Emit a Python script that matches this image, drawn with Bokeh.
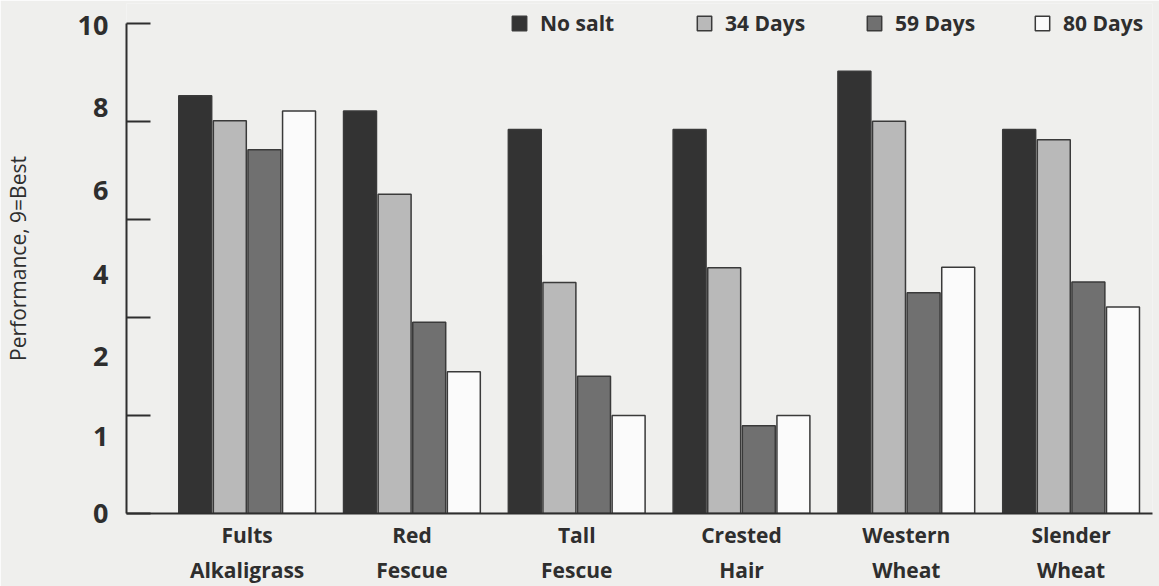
from bokeh.plotting import figure
from bokeh.models import (Range1d, FixedTicker, CustomJSTickFormatter, ColumnDataSource,
                          Legend, LegendItem)
from bokeh.transform import dodge
from bokeh.embed import file_html
from bokeh.resources import INLINE

# ---- data ----
groups = ["Fults\nAlkaligrass", "Red\nFescue", "Tall\nFescue",
          "Crested\nHair", "Western\nWheat", "Slender\nWheat"]
series = ["No salt", "34 Days", "59 Days", "80 Days"]
no_salt = [8.52, 8.21, 7.83, 7.83, 9.02, 7.83]
days34 = [8.01, 6.51, 4.71, 5.01, 8.00, 7.62]
days59 = [7.42, 3.90, 2.80, 1.79, 4.50, 4.72]
days80 = [8.21, 2.89, 2.00, 2.00, 5.02, 4.21]
ytick_marks = [0, 2, 4, 6, 8, 10]
ytick_labels = ["0", "1", "2", "4", "6", "8", "10"]
ytick_label_pos = [0, 1.57, 3.21, 4.88, 6.58, 8.27, 9.95]

colors = ["#333333", "#b9b9b9", "#707070", "#fbfbfb"]
ink = "#2e2e2e"
paper = "#efefed"
FONT = "Open Sans"

src = ColumnDataSource(dict(x=list(range(len(groups))), s0=no_salt, s1=days34,
                            s2=days59, s3=days80))

p = figure(width=1159, height=586, output_backend="svg", toolbar_location=None,
           x_range=Range1d(-0.732, 5.494), y_range=Range1d(0, 10.4),
           min_border_left=126, min_border_right=7, min_border_top=3,
           min_border_bottom=71)
p.background_fill_color = paper
p.border_fill_color = paper
p.outline_line_color = None
p.grid.visible = False

bw = 0.21
renderers = []
for i, (name, col) in enumerate(zip(series, colors)):
    r = p.vbar(x=dodge("x", (i - 1.5) * bw, range=p.x_range), top=f"s{i}", width=0.2,
               bottom=0, source=src, fill_color=col, line_color="#3a3a3a",
               line_width=1.5)
    renderers.append(r)

# one legend box per entry, spaced as in the original
legend_x = [384, 569, 739, 907]
for name, r, lx in zip(series, renderers, legend_x):
    lg = Legend(items=[LegendItem(label=name, renderers=[r])],
                location=(lx, 476), padding=0, margin=0,
                glyph_width=18, glyph_height=18, label_standoff=12,
                label_height=18, label_text_font=FONT,
                label_text_font_style="bold", label_text_font_size="21px",
                label_text_color=ink, border_line_color=None, background_fill_alpha=0)
    p.add_layout(lg)

# y axis
ya = p.yaxis[0]
ya.bounds = (0, 10)
ya.ticker = FixedTicker(ticks=ytick_label_pos, minor_ticks=ytick_marks)
ya.formatter = CustomJSTickFormatter(args=dict(pos=ytick_label_pos, labels=ytick_labels), code="""
let best = 0, d = 1e9;
for (let i = 0; i < pos.length; i++) { const e = Math.abs(pos[i] - tick); if (e < d) { d = e; best = i; } }
return labels[best];
""")
ya.major_tick_line_color = None
ya.major_tick_in = 0
ya.major_tick_out = 0
ya.minor_tick_line_color = ink
ya.minor_tick_line_width = 2
ya.minor_tick_in = 24
ya.minor_tick_out = 0
ya.axis_line_color = ink
ya.axis_line_width = 2
ya.major_label_standoff = 18
ya.major_label_text_font = FONT
ya.major_label_text_font_style = "bold"
ya.major_label_text_font_size = "27px"
ya.major_label_text_color = ink
ya.axis_label = "Performance, 9=Best"
ya.axis_label_text_font = FONT
ya.axis_label_text_font_style = "normal"
ya.axis_label_text_font_size = "21px"
ya.axis_label_text_color = ink
ya.axis_label_standoff = 43

# x axis
xa = p.xaxis[0]
xa.ticker = FixedTicker(ticks=list(range(len(groups))))
xa.formatter = CustomJSTickFormatter(args=dict(names=groups),
                                     code="return names[Math.round(tick)];")
xa.major_tick_line_color = None
xa.minor_tick_line_color = None
xa.major_tick_out = 0
xa.axis_line_color = ink
xa.axis_line_width = 2
xa.major_label_standoff = 7
xa.major_label_text_font = FONT
xa.major_label_text_font_style = "bold"
xa.major_label_text_font_size = "21px"
xa.major_label_text_line_height = 1.25
xa.major_label_text_color = ink

open("out.html", "w").write(file_html(p, INLINE))
